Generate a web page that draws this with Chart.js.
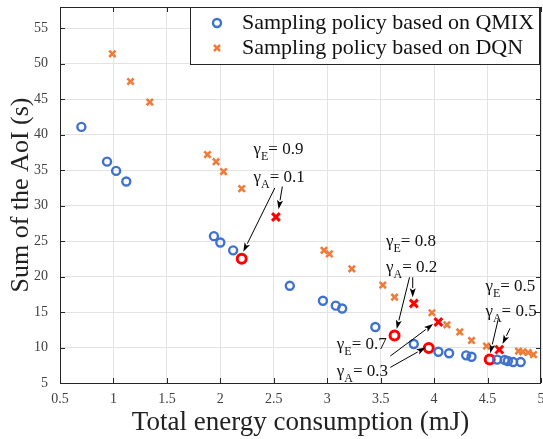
<!DOCTYPE html>
<html>
<head>
<meta charset="utf-8">
<script src="https://cdn.jsdelivr.net/npm/chart.js@4"></script>
<style>
  html, body { margin: 0; padding: 0; background: #fff; }
  canvas { display: block; }
</style>
</head>
<body>
<canvas id="c" width="543" height="439"></canvas>
<script>
// QMIX sampling policy (blue circles)
const qmixX = [0.70, 0.94, 1.025, 1.12, 1.94, 2.00, 2.12, 2.65, 2.96, 3.08, 3.14, 3.45, 3.81, 4.04, 4.14, 4.30, 4.35, 4.59, 4.66, 4.69, 4.74, 4.81];
const qmixY = [41.1, 36.2, 34.9, 33.4, 25.7, 24.8, 23.7, 18.7, 16.6, 15.9, 15.5, 12.9, 10.5, 9.4, 9.2, 8.9, 8.7, 8.3, 8.25, 8.1, 7.95, 7.95];
// highlighted QMIX points (red circles)
const qmixSelX = [2.20, 3.63, 3.95, 4.52];
const qmixSelY = [22.5, 11.7, 9.95, 8.3];

// DQN sampling policy (orange crosses)
const dqnX = [0.99, 1.16, 1.34, 1.88, 1.96, 2.03, 2.20, 2.97, 3.02, 3.23, 3.52, 3.63, 3.98, 4.12, 4.24, 4.35, 4.49, 4.79, 4.83, 4.88, 4.93];
const dqnY = [51.4, 47.5, 44.6, 37.2, 36.2, 34.8, 32.4, 23.7, 23.2, 21.1, 18.8, 17.1, 14.9, 13.2, 12.2, 11.0, 10.2, 9.5, 9.4, 9.3, 9.0];
// highlighted DQN points (red crosses)
const dqnSelX = [2.52, 3.81, 4.04, 4.61];
const dqnSelY = [28.4, 16.2, 13.6, 9.7];

const seriesNames = ['Sampling policy based on QMIX', 'Sampling policy based on DQN'];

// weight labels: text position (x, y of gamma_E line, y of gamma_A line)
const noteX = [2.31, 3.55, 3.09, 4.48];
const noteYE = [37.9, 24.9, 10.4, 18.6];
const noteYA = [33.9, 21.3, 6.6, 15.1];
const gammaE = ['0.9', '0.8', '0.7', '0.5'];
const gammaA = ['0.1', '0.2', '0.3', '0.5'];
// arrows: [x0, y0, x1, y1] in data units
const arrows = [
  [2.51, 32.5, 2.215, 23.5], [2.58, 32.7, 2.545, 29.5],
  [3.77, 19.9, 3.65, 12.6], [3.80, 19.9, 3.80, 17.1],
  [3.59, 8.8, 3.99, 13.3], [3.59, 7.2, 3.92, 10.0],
  [4.60, 14.0, 4.525, 9.2], [4.71, 12.7, 4.64, 10.5]
];

const blue = '#3f72d0';
const orange = '#f07c3a';
const red = '#ff0000';
const serif = '"Liberation Serif", "Times New Roman", serif';

const toPts = (xs, ys) => xs.map((x, i) => ({x, y: ys[i]}));

function drawArrow(ctx, x0, y0, x1, y1) {
  const ang = Math.atan2(y1 - y0, x1 - x0);
  const len = 9, half = 3;
  const bx = x1 - len * Math.cos(ang), by = y1 - len * Math.sin(ang);
  ctx.beginPath();
  ctx.moveTo(x0, y0);
  ctx.lineTo(bx, by);
  ctx.stroke();
  ctx.beginPath();
  ctx.moveTo(x1, y1);
  ctx.lineTo(bx + half * Math.sin(ang), by - half * Math.cos(ang));
  ctx.lineTo(bx + 2 * Math.cos(ang), by + 2 * Math.sin(ang));
  ctx.lineTo(bx - half * Math.sin(ang), by + half * Math.cos(ang));
  ctx.closePath();
  ctx.fill();
}

function drawGamma(ctx, px, py, sub, val) {
  ctx.font = '17px ' + serif;
  ctx.fillText('\u03B3', px, py);
  let w = ctx.measureText('\u03B3').width;
  ctx.font = '12px ' + serif;
  ctx.fillText(sub, px + w, py + 7);
  w += ctx.measureText(sub).width;
  ctx.font = '17px ' + serif;
  ctx.fillText('= ' + val, px + w, py);
}

const framePlugin = {
  id: 'frame',
  afterDraw(chart) {
    const {ctx, chartArea: a, scales: {x, y}} = chart;
    ctx.save();
    ctx.strokeStyle = '#262626';
    ctx.lineWidth = 1;
    ctx.beginPath();
    x.ticks.forEach(t => {
      const px = Math.round(x.getPixelForValue(t.value)) + 0.5;
      ctx.moveTo(px, a.bottom); ctx.lineTo(px, a.bottom - 5);
      ctx.moveTo(px, a.top); ctx.lineTo(px, a.top + 5);
    });
    y.ticks.forEach(t => {
      const py = Math.round(y.getPixelForValue(t.value)) + 0.5;
      ctx.moveTo(a.left, py); ctx.lineTo(a.left + 5, py);
      ctx.moveTo(a.right, py); ctx.lineTo(a.right - 5, py);
    });
    ctx.stroke();
    ctx.strokeRect(Math.round(a.left) + 0.5, Math.round(a.top) + 0.5, Math.round(a.width) - 1, Math.round(a.height));

    // legend box
    const lx = a.right - 351, ly = a.top, lw = 349, lh = 57;
    ctx.fillStyle = '#fff';
    ctx.fillRect(lx, ly, lw, lh);
    ctx.strokeRect(lx + 0.5, ly + 0.5, lw, lh);
    const rows = [ly + 16, ly + 41];
    ctx.strokeStyle = blue; ctx.lineWidth = 2.4;
    ctx.beginPath(); ctx.arc(lx + 27, rows[0], 4, 0, Math.PI * 2); ctx.stroke();
    ctx.strokeStyle = orange; ctx.lineWidth = 2.6;
    ctx.beginPath();
    ctx.moveTo(lx + 24, rows[1] - 3); ctx.lineTo(lx + 30, rows[1] + 3);
    ctx.moveTo(lx + 30, rows[1] - 3); ctx.lineTo(lx + 24, rows[1] + 3);
    ctx.stroke();
    ctx.fillStyle = '#111';
    ctx.font = '22px ' + serif;
    ctx.textBaseline = 'middle';
    ctx.textAlign = 'left';
    seriesNames.forEach((n, i) => ctx.fillText(n, lx + 52, rows[i]));

    // weight annotations
    ctx.fillStyle = '#111';
    noteX.forEach((nx, i) => {
      const px = x.getPixelForValue(nx);
      drawGamma(ctx, px, y.getPixelForValue(noteYE[i]), 'E', gammaE[i]);
      drawGamma(ctx, px, y.getPixelForValue(noteYA[i]), 'A', gammaA[i]);
    });
    ctx.strokeStyle = '#000'; ctx.fillStyle = '#000'; ctx.lineWidth = 1;
    arrows.forEach(([x0, y0, x1, y1]) => drawArrow(ctx,
      x.getPixelForValue(x0), y.getPixelForValue(y0),
      x.getPixelForValue(x1), y.getPixelForValue(y1)));
    ctx.restore();
  }
};

new Chart(document.getElementById('c'), {
  type: 'scatter',
  data: {
    datasets: [
      {label: seriesNames[0], data: toPts(qmixX, qmixY), pointStyle: 'circle',
       pointRadius: 4, borderColor: blue, backgroundColor: 'rgba(0,0,0,0)', borderWidth: 2.4},
      {label: seriesNames[1], data: toPts(dqnX, dqnY), pointStyle: 'crossRot',
       pointRadius: 4.5, borderColor: orange, backgroundColor: orange, borderWidth: 2.6},
      {label: 'QMIX selected', data: toPts(qmixSelX, qmixSelY), pointStyle: 'circle',
       pointRadius: 4.5, borderColor: red, backgroundColor: '#fff', borderWidth: 3},
      {label: 'DQN selected', data: toPts(dqnSelX, dqnSelY), pointStyle: 'crossRot',
       pointRadius: 5.5, borderColor: red, backgroundColor: red, borderWidth: 3}
    ]
  },
  options: {
    responsive: false,
    animation: false,
    devicePixelRatio: 1,
    layout: {autoPadding: false, padding: {top: 7, right: 2, left: 0, bottom: 0}},
    plugins: {legend: {display: false}, tooltip: {enabled: false}},
    scales: {
      x: {
        type: 'linear', min: 0.5, max: 5,
        ticks: {stepSize: 0.5, padding: 8, color: '#404040', font: {family: serif, size: 14},
                callback: v => String(+v.toFixed(1))},
        grid: {color: '#e3e3e3', drawTicks: false},
        border: {display: false},
        title: {display: true, text: 'Total energy consumption (mJ)', color: '#222',
                font: {family: serif, size: 27}, padding: {top: 0, bottom: 0}},
        afterFit: s => { s.height = 56; s.paddingLeft = 0; s.paddingRight = 0; }
      },
      y: {
        type: 'linear', min: 5, max: 58,
        afterBuildTicks: s => { s.ticks = s.ticks.filter(t => t.value % 5 === 0); },
        ticks: {stepSize: 5, padding: 12, color: '#404040', font: {family: serif, size: 14}},
        grid: {color: '#e3e3e3', drawTicks: false},
        border: {display: false},
        title: {display: true, text: 'Sum of the AoI (s)', color: '#222',
                font: {family: serif, size: 26}, padding: {top: 6, bottom: 0}},
        afterFit: s => { s.width = 60; s.paddingTop = 0; s.paddingBottom = 0; }
      }
    }
  },
  plugins: [framePlugin]
});
</script>
</body>
</html>
